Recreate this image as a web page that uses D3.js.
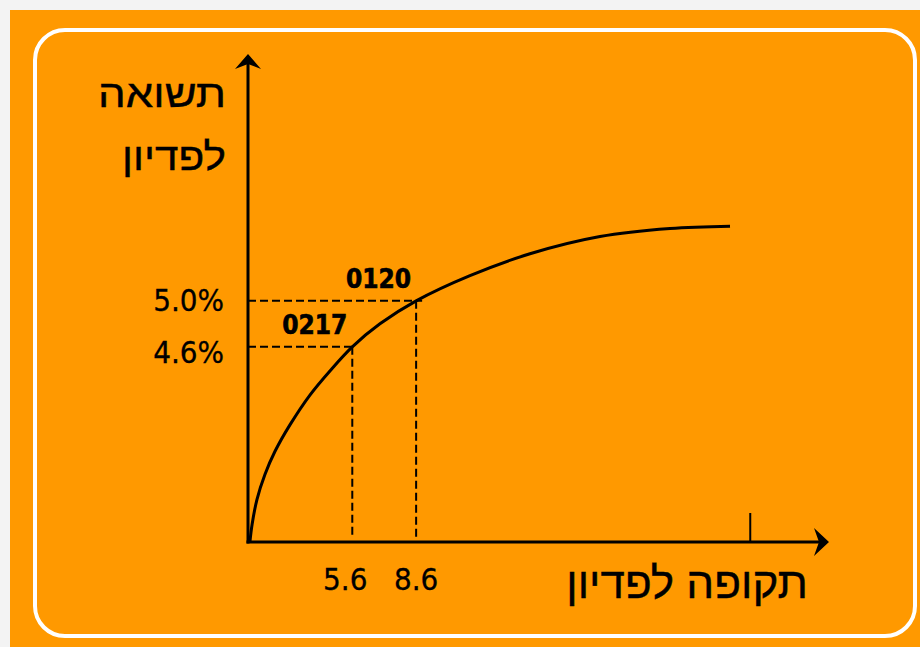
<!DOCTYPE html>
<html>
<head>
<meta charset="utf-8">
<script src="https://cdn.jsdelivr.net/npm/d3@7"></script>
<style>
  html, body { margin: 0; padding: 0; background: #f3f3f3; }
  svg { display: block; }
  text { font-family: "DejaVu Sans Condensed", "DejaVu Sans", sans-serif; fill: #000; }
  .heb { font-family: "Liberation Sans", "DejaVu Sans", sans-serif; }
</style>
</head>
<body>
<svg id="chart" width="920" height="647"></svg>
<script>
// ---- data ----
const curveTime  = [0.79, 0.89, 1.12, 1.50, 1.97, 2.67, 3.61, 4.55, 5.6, 6.9, 8.6, 11.13, 13.95, 17.24, 20.53, 23.35];
const curveYield = [2.90, 3.05, 3.27, 3.49, 3.69, 3.92, 4.18, 4.39, 4.6, 4.80, 5.0, 5.22, 5.41, 5.56, 5.63, 5.65];
const bondNames  = ["0217", "0120"];
const bondTime   = [5.6, 8.6];
const bondYield  = [4.6, 5.0];
const xTickLabels = ["5.6", "8.6"];
const yTickLabels = ["4.6%", "5.0%"];
const endTick = 24.3;
const yTitle = ["תשואה", "לפדיון"];
const xTitle = "תקופה לפדיון";

const svg = d3.select("#chart");
const W = 920, H = 647;

// background
svg.append("rect").attr("x", 10).attr("y", 10).attr("width", W - 10).attr("height", H - 10).attr("fill", "#FF9900");
svg.append("rect").attr("x", 35).attr("y", 30).attr("width", 880).attr("height", 606)
  .attr("rx", 30).attr("ry", 30).attr("fill", "none").attr("stroke", "#fff").attr("stroke-width", 4);

// scales
const x = d3.scaleLinear().domain([0.7, 28]).range([248, 829]);
const y = d3.scaleLinear().domain([2.9, 7.15]).range([542, 54]);

const x0 = x.range()[0], x1 = x.range()[1];
const y0 = y.range()[0], y1 = y.range()[1];

// axes
const axes = svg.append("g");
axes.append("line").attr("x1", x0).attr("x2", x0).attr("y1", y0 + 1.5).attr("y2", y1 + 10)
  .attr("stroke", "#000").attr("stroke-width", 3);
axes.append("line").attr("x1", x0 - 1.5).attr("x2", x1 - 10).attr("y1", y0).attr("y2", y0)
  .attr("stroke", "#000").attr("stroke-width", 3);
// arrowheads
axes.append("path")
  .attr("d", `M${x0},${y1} L${x0 + 13},${y1 + 15} L${x0},${y1 + 10} L${x0 - 13},${y1 + 15} Z`)
  .attr("fill", "#000");
axes.append("path")
  .attr("d", `M${x1},${y0} L${x1 - 15},${y0 - 14} L${x1 - 10},${y0} L${x1 - 15},${y0 + 14} Z`)
  .attr("fill", "#000");
// end tick
axes.append("line").attr("x1", x(endTick)).attr("x2", x(endTick)).attr("y1", y0 - 29).attr("y2", y0)
  .attr("stroke", "#000").attr("stroke-width", 2);

// dashed guides
const guides = svg.append("g").attr("stroke", "#000").attr("stroke-width", 2).attr("stroke-dasharray", "8,4");
bondTime.forEach((t, i) => {
  guides.append("line").attr("x1", x0).attr("x2", x(t) + (i === 1 ? 6 : 0))
    .attr("y1", y(bondYield[i])).attr("y2", y(bondYield[i]));
  guides.append("line").attr("x1", x(t)).attr("x2", x(t))
    .attr("y1", y(bondYield[i])).attr("y2", y0 - 5);
});

// curve
const pts = curveTime.map((t, i) => [x(t), y(curveYield[i])]);
svg.append("path")
  .attr("d", d3.line().curve(d3.curveCatmullRom.alpha(0.5))(pts))
  .attr("fill", "none").attr("stroke", "#000").attr("stroke-width", 3);

// bond labels
bondNames.forEach((n, i) => {
  svg.append("text").attr("x", x(bondTime[i]) - 5).attr("y", y(bondYield[i]) - 13)
    .attr("text-anchor", "end").attr("font-size", 26).attr("font-weight", "bold")
    .attr("stroke", "#000").attr("stroke-width", 0.6).text(n);
});

// y tick labels
const yDy = [16, 10];
yTickLabels.forEach((l, i) => {
  svg.append("text").attr("x", 224).attr("y", y(bondYield[i]) + yDy[i])
    .attr("text-anchor", "end").attr("font-size", 31)
    .attr("stroke", "#000").attr("stroke-width", 0.3).text(l);
});

// x tick labels
const xDx = [-7, 0];
xTickLabels.forEach((l, i) => {
  svg.append("text").attr("x", x(bondTime[i]) + xDx[i]).attr("y", 590)
    .attr("text-anchor", "middle").attr("font-size", 31)
    .attr("stroke", "#000").attr("stroke-width", 0.3).text(l);
});

// titles
const yTitleLen = [128, 104];
yTitle.forEach((l, i) => {
  svg.append("text").attr("class", "heb").attr("x", 226).attr("y", 107 + i * 63)
    .attr("text-anchor", "end").attr("font-size", 38)
    .attr("textLength", yTitleLen[i]).attr("lengthAdjust", "spacingAndGlyphs")
    .attr("stroke", "#000").attr("stroke-width", 0.4).text(l);
});
svg.append("text").attr("class", "heb").attr("x", 808).attr("y", 598)
  .attr("text-anchor", "end").attr("font-size", 44)
  .attr("stroke", "#000").attr("stroke-width", 0.4).text(xTitle);
</script>
</body>
</html>
